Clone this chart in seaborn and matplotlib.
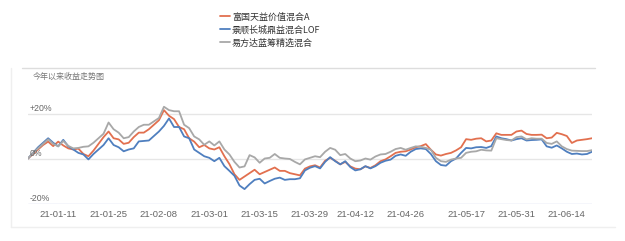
import numpy as np
import pandas as pd
import matplotlib
matplotlib.use("Agg")
import matplotlib.pyplot as plt
from matplotlib.lines import Line2D
import seaborn as sns

# ---------------- data ----------------
series_names = ["富国天益价值混合A", "景顺长城鼎益混合LOF", "易方达蓝筹精选混合"]
series_colors = ["#e2704f", "#4f7fbf", "#a8a8a8"]

holidays = ["2021-01-01", "2021-02-11", "2021-02-12", "2021-02-15", "2021-02-16",
            "2021-02-17", "2021-04-05", "2021-05-03", "2021-05-04", "2021-05-05"]
tick_dates = ["2021-01-11", "2021-01-25", "2021-02-08", "2021-03-01", "2021-03-15",
              "2021-03-29", "2021-04-12", "2021-04-26", "2021-05-17", "2021-05-31",
              "2021-06-14"]
ytick_values = [-20, 0, 20]
ytick_labels = ["-20%", "0%", "+20%"]

fuguo = [0, 2, 4, 6, 7.5, 5.5, 7.5, 5.8, 4.5, 4, 4.4, 2, 1, 3.5, 6.5, 9.5, 12, 9, 8.5, 6.5,
         7, 9.5, 11.5, 11.5, 13, 15, 17, 21.5, 19, 17.5, 14, 13, 9, 7.5, 5, 6, 4.5, 4, 5, 1,
         -2.5, -7, -9.5, -8, -6.5, -5, -7, -6, -5, -4, -5.5, -5.5, -6.5, -7, -7.5, -4.5, -3.5, -3, -4, -1,
         0.3, -1, -2.6, -1.5, -3.5, -4.5, -4.8, -3.5, -4.2, -3, -1.2, -0.4, 1, 2.5, 3, 3.2, 4, 5, 5.5, 6.4,
         3.9, 1.8, 1.3, 2, 2.5, 3.6, 5, 8.6, 8.3, 8.8, 9, 7.6, 8, 11.2, 10.5, 10.5, 10.5, 12, 12.4, 10.9,
         10.5, 10.5, 10.6, 9, 9.3, 11.4, 10.8, 10, 6.9, 8, 8.3, 8.6, 9]
jingshun = [0, 2.5, 5, 7, 9, 7, 5.4, 8.3, 5.4, 4, 2.5, 1.8, -0.4, 2, 4, 6, 9, 6, 5, 3.2,
            4, 4.5, 7.6, 7.8, 8, 10, 12, 14.5, 17.8, 14, 14, 9.8, 9, 4, 2.5, 1, 0.3, -1.2, 0.3, -3.4,
            -5.5, -7.7, -12, -13.6, -11.4, -9.5, -9, -11.1, -10, -9, -8.5, -9.5, -9.2, -9.2, -8.8, -5.3, -4.1, -3.4, -4.4, -1.5,
            0.6, -1.2, -2.6, -1.2, -3.8, -5.3, -4.8, -3.4, -4.4, -3.4, -1.9, -1, -0.5, 1.2, 1.8, 1.2, 3, 4.2, 4.5, 4.2,
            2, -1.2, -2.9, -3.2, -1.2, 0, 2.5, 4.7, 4.5, 5, 5.1, 4.7, 5.5, 9.8, 9, 8.6, 8, 8.6, 9, 8,
            8.2, 8.3, 8.5, 5.4, 4.8, 5.8, 4.5, 3, 2, 2.2, 1.8, 2, 3]
yifangda = [0, 2.5, 4.5, 6.5, 8.5, 6.5, 5.4, 7.8, 5.6, 4.5, 4.7, 5.2, 5.4, 7, 9, 11, 16, 13, 11.5, 9,
            9.5, 12, 14, 15, 15, 16.5, 18, 23, 21.5, 21, 21, 15, 13.5, 9.8, 8.5, 6.1, 7.6, 5.8, 7.6, 4,
            1.8, -1.5, -4, -3.5, 1.5, 0.5, -1.9, 0, 0.3, 2, 0.3, 0, -0.2, -1.5, -2.6, -0.4, 0.3, 1, 0.6, 3,
            4.7, 3.9, 1.5, 2, 0, -1.2, -0.9, 0, -0.5, 0.9, 1.8, 2, 3, 4.2, 4.7, 3.9, 4.7, 5.4, 5.2, 4.7,
            3.9, 0.3, -1.2, -1.5, -0.5, 0, 0.3, 2.5, 3, 3.2, 3.9, 3.6, 3.5, 9, 8.6, 8.2, 8, 9.5, 9.8, 8.5,
            9, 8.8, 8.8, 6.9, 6.5, 7.6, 5.4, 4.2, 3.5, 3.4, 3.3, 3.3, 3.7]

# trading-day category axis
dates = pd.bdate_range("2020-12-31", "2021-06-21")
dates = dates[~dates.isin(pd.to_datetime(holidays))]
n = len(dates)

rows = []
for name, vals in zip(series_names, [fuguo, jingshun, yifangda]):
    for i, v in enumerate(vals[:n]):
        rows.append({"idx": i, "date": dates[i], "fund": name, "value": v})
df = pd.DataFrame(rows)

# ---------------- figure ----------------
sns.set_theme(style="white")
plt.rcParams["font.family"] = ["Noto Sans CJK SC", "DejaVu Sans"]

W, H = 625, 241
fig = plt.figure(figsize=(W / 100, H / 100), dpi=100)
ax = fig.add_axes([28 / W, 1 - 203.5 / H, (592 - 28) / W, (203.5 - 100) / H])

sns.lineplot(data=df, x="idx", y="value", hue="fund", hue_order=series_names,
             palette=dict(zip(series_names, series_colors)), linewidth=1.3,
             ax=ax, legend=False, zorder=3)

ax.set_xlim(0, n - 1)
ax.set_ylim(-20, 26)
ax.set_xlabel("")
ax.set_ylabel("")
for s in ax.spines.values():
    s.set_visible(False)

# gridlines
for v in ytick_values:
    col = "#ccd6eb" if v == min(ytick_values) else "#e6e6e6"
    ax.axhline(v, color=col, lw=1.0, zorder=1)
ax.set_yticks([])
for v, lab in zip(ytick_values, ytick_labels):
    ax.annotate(lab, xy=(0, v), xycoords=("axes fraction", "data"),
                xytext=(1, 0.5), textcoords="offset points",
                ha="left", va="bottom", fontsize=6.3, color="#666666",
                family=["Liberation Sans", "DejaVu Sans"], zorder=4)

tick_idx = [int(np.where(dates == pd.Timestamp(d))[0][0]) for d in tick_dates]
ax.set_xticks(tick_idx)
ax.set_xticklabels([pd.Timestamp(d).strftime("%y-%m-%d") for d in tick_dates],
                   fontsize=6.8, color="#666666", family=["Liberation Sans", "DejaVu Sans"])
ax.tick_params(axis="x", length=3, width=0.8, color="#ccd6eb", pad=2)

# legend
handles = [Line2D([0], [0], color=c, lw=1.3) for c in series_colors]
fig.legend(handles, series_names, loc="upper center", bbox_to_anchor=(0.432, 1 - 8 / H),
           frameon=False, fontsize=6.5, handlelength=1.2, handletextpad=0.15,
           labelspacing=0.4, borderpad=0, labelcolor="#333333")

# panel decoration
fig.add_artist(Line2D([22 / W, 595 / W], [1 - 68 / H, 1 - 68 / H], color="#dddddd", lw=1.0))
fig.add_artist(Line2D([11 / W, 11 / W], [1 - 68 / H, 1 - 227 / H], color="#efefef", lw=1.0))
fig.add_artist(Line2D([11 / W, 615 / W], [1 - 227 / H, 1 - 227 / H], color="#efefef", lw=1.0))
fig.text(33 / W, 1 - 76 / H, "今年以来收益走势图", fontsize=5.8, color="#777777",
         ha="left", va="center")

fig.savefig("out.png", dpi=100)
